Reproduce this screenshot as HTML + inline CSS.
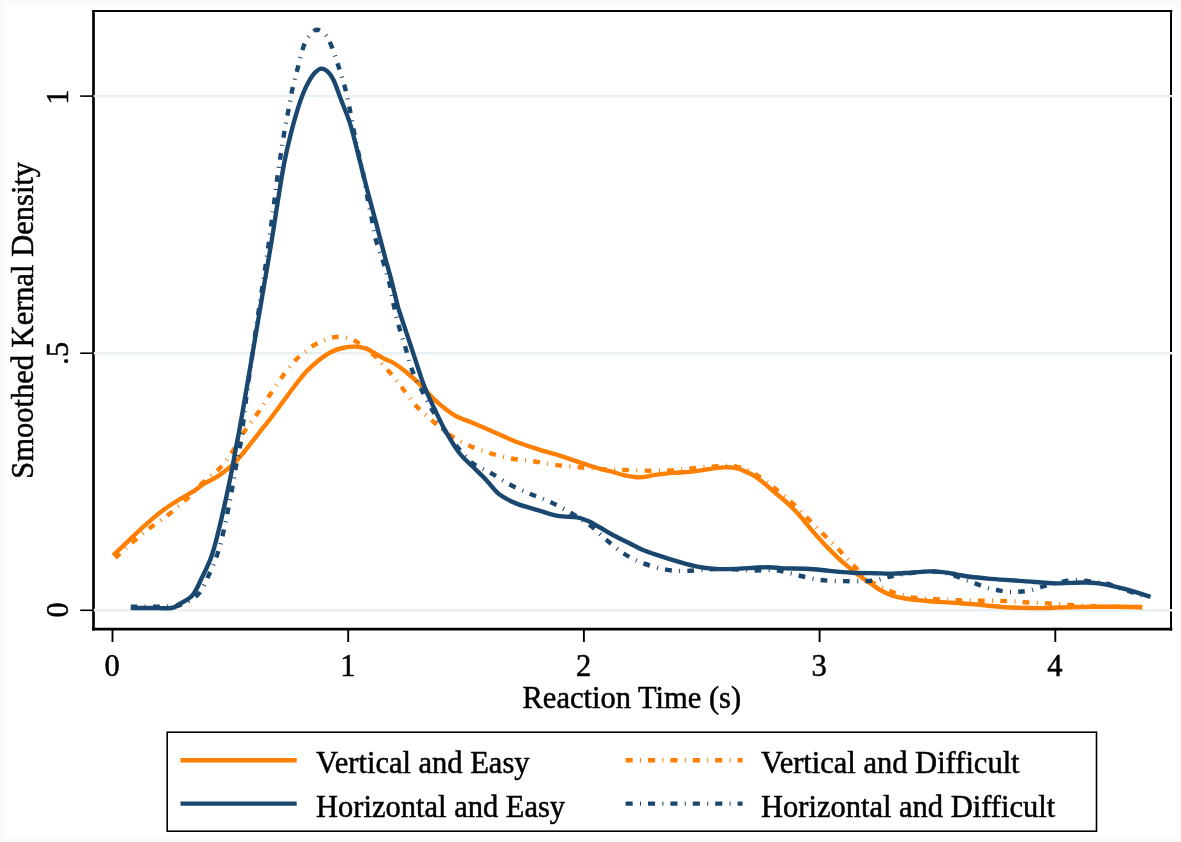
<!DOCTYPE html>
<html><head><meta charset="utf-8"><title>Reaction Time Kernel Density</title>
<style>
html,body{margin:0;padding:0;background:#fafafa;}
body{width:1181px;height:842px;position:relative;overflow:hidden;font-family:"Liberation Serif",serif;}
</style></head><body>
<svg width="1181" height="842" viewBox="0 0 1181 842" style="position:absolute;left:0;top:0;will-change:transform">
<rect x="0" y="0" width="1181" height="842" fill="#fafafa"/>
<rect x="4.3" y="4.6" width="1172.4" height="832.9" fill="#fff"/>
<g stroke="#000" fill="none">
<line x1="92.1" y1="11.0" x2="1172.3" y2="11.0" stroke-width="2.1"/>
<line x1="93.5" y1="11.0" x2="93.5" y2="630.5" stroke-width="2.7"/>
<line x1="92.1" y1="629.2" x2="1172.3" y2="629.2" stroke-width="2.7"/>
<line x1="1171.0" y1="11.0" x2="1171.0" y2="630.5" stroke-width="2.0"/>
<line x1="80.2" y1="610.3" x2="93.5" y2="610.3" stroke-width="1.6"/>
<line x1="80.2" y1="353.2" x2="93.5" y2="353.2" stroke-width="1.6"/>
<line x1="80.2" y1="96.1" x2="93.5" y2="96.1" stroke-width="1.6"/>
<line x1="112.5" y1="629.2" x2="112.5" y2="642" stroke-width="1.9"/>
<line x1="348.2" y1="629.2" x2="348.2" y2="642" stroke-width="1.9"/>
<line x1="583.9" y1="629.2" x2="583.9" y2="642" stroke-width="1.9"/>
<line x1="819.6" y1="629.2" x2="819.6" y2="642" stroke-width="1.9"/>
<line x1="1055.3" y1="629.2" x2="1055.3" y2="642" stroke-width="1.9"/>
</g>
<line x1="93.8" y1="610.3" x2="1172.0" y2="610.3" stroke="#e9f0f3" stroke-width="2.4"/>
<line x1="93.8" y1="353.2" x2="1172.0" y2="353.2" stroke="#e9f0f3" stroke-width="2.4"/>
<line x1="93.8" y1="96.1" x2="1172.0" y2="96.1" stroke="#e9f0f3" stroke-width="2.4"/>
<g fill="none" stroke-linejoin="round">
<path d="M113.1 555.3C114.9 553.6 120.0 548.8 123.8 545.3C127.5 541.8 131.7 537.7 135.6 534.0C139.5 530.3 143.5 526.7 147.5 523.2C151.5 519.7 155.4 516.1 159.4 513.0C163.4 509.9 167.4 507.1 171.3 504.5C175.2 501.9 179.2 499.7 183.1 497.3C187.0 494.9 191.4 492.6 195.0 490.3C198.6 488.0 201.3 485.3 204.5 483.4C207.7 481.5 210.8 480.5 214.0 478.7C217.2 476.9 220.3 474.7 223.5 472.3C226.7 469.9 229.8 467.5 233.0 464.4C236.2 461.3 239.3 457.6 242.5 453.8C245.7 450.1 249.2 445.4 252.0 441.9C254.8 438.3 256.2 436.6 259.4 432.5C262.6 428.4 267.4 422.7 271.3 417.5C275.2 412.3 279.2 406.8 283.1 401.5C287.1 396.2 291.0 390.6 295.0 385.5C299.0 380.4 302.9 375.2 306.9 371.0C310.9 366.8 314.9 363.3 318.8 360.2C322.8 357.1 326.7 354.2 330.6 352.2C334.6 350.2 338.5 348.9 342.5 348.0C346.5 347.1 350.4 346.5 354.4 346.6C358.4 346.7 362.7 347.4 366.3 348.6C369.9 349.8 372.6 352.0 375.8 353.8C379.0 355.6 382.3 357.7 385.3 359.2C388.3 360.7 390.0 360.7 393.7 363.0C397.4 365.3 402.8 369.2 407.3 373.0C411.9 376.8 416.4 381.0 421.0 385.5C425.6 390.0 429.2 394.9 434.7 399.8C440.2 404.7 447.4 410.9 453.8 414.8C460.2 418.7 466.1 420.1 472.9 423.0C479.7 425.9 487.5 429.3 494.8 432.5C502.1 435.7 509.3 439.2 516.6 442.0C523.9 444.8 531.2 447.0 538.5 449.3C545.8 451.6 553.1 453.5 560.4 455.8C567.7 458.1 576.4 461.3 582.2 463.2C588.0 465.1 590.4 466.1 595.0 467.4C599.6 468.7 604.9 469.8 609.9 471.1C614.9 472.4 619.9 474.3 624.9 475.4C629.9 476.4 634.9 477.5 639.9 477.4C644.9 477.3 649.4 475.6 654.8 474.9C660.2 474.1 666.5 473.4 672.3 472.9C678.1 472.4 684.0 472.5 689.8 471.9C695.6 471.3 701.4 470.1 707.2 469.4C713.0 468.6 720.1 467.6 724.7 467.4C729.3 467.1 731.4 467.3 734.7 467.9C738.0 468.5 741.3 469.7 744.6 471.1C747.9 472.5 751.3 474.0 754.6 476.1C757.9 478.2 761.3 480.9 764.6 483.6C767.9 486.3 771.3 489.5 774.6 492.3C777.9 495.1 781.2 497.6 784.5 500.5C787.8 503.4 791.5 506.9 794.5 510.0C797.5 513.1 799.4 515.2 802.6 519.0C805.8 522.8 810.1 528.3 813.9 532.6C817.6 536.9 821.4 541.0 825.1 545.0C828.9 549.0 832.6 552.7 836.4 556.3C840.2 559.9 843.9 563.2 847.7 566.4C851.5 569.6 855.2 572.6 859.0 575.4C862.8 578.2 866.5 580.7 870.3 583.3C874.1 585.9 877.8 588.7 881.6 590.8C885.4 592.9 888.8 594.5 892.9 595.8C897.0 597.1 901.1 597.9 906.4 598.7C911.7 599.5 918.5 600.1 924.5 600.7C930.5 601.3 936.5 601.7 942.5 602.1C948.5 602.5 955.2 602.8 960.6 603.2C966.0 603.6 970.5 604.0 975.0 604.4C979.5 604.8 982.8 605.2 987.9 605.7C993.0 606.2 999.8 606.8 1005.7 607.2C1011.7 607.6 1017.6 607.8 1023.6 607.9C1029.6 608.0 1035.5 608.2 1041.5 608.1C1047.5 608.0 1053.3 607.7 1059.3 607.5C1065.2 607.3 1071.2 607.1 1077.2 607.0C1083.2 606.9 1089.1 606.8 1095.1 606.7C1101.0 606.7 1107.0 606.7 1112.9 606.7C1118.9 606.8 1125.9 606.9 1130.8 607.0C1135.7 607.1 1140.5 607.2 1142.4 607.2" stroke="#ff7f00" stroke-width="4.4"/>
<path d="M115.4 557.8C118.4 555.1 127.6 546.5 133.3 541.6C139.1 536.7 144.0 532.7 149.9 528.1C155.8 523.5 163.0 519.0 168.9 514.3C174.8 509.6 180.0 505.2 185.5 500.1C191.0 495.0 196.5 488.5 202.1 483.4C207.7 478.2 213.9 474.3 218.8 469.2C223.8 464.1 227.7 458.7 231.8 452.6C236.0 446.5 239.5 438.8 243.7 432.4C247.9 426.0 252.8 420.1 257.0 414.1C261.2 408.1 264.8 402.4 268.9 396.3C273.0 390.2 277.5 383.2 281.9 377.3C286.2 371.4 291.2 364.8 295.0 360.6C298.8 356.4 301.3 354.9 304.5 352.3C307.7 349.7 310.8 347.2 314.0 345.2C317.2 343.2 320.3 341.8 323.5 340.5C326.7 339.2 329.8 338.0 333.0 337.4C336.2 336.8 338.9 336.4 342.5 336.9C346.1 337.4 350.4 338.5 354.4 340.5C358.4 342.5 363.1 346.4 366.3 348.8C369.5 351.2 371.1 352.6 373.4 354.7C375.7 356.8 377.1 358.3 380.0 361.5C382.9 364.7 387.2 369.5 390.9 373.8C394.5 378.1 397.8 382.3 401.9 387.5C406.0 392.7 410.5 399.7 415.5 405.2C420.5 410.7 426.4 415.5 431.9 420.3C437.4 425.1 442.4 429.8 448.3 433.9C454.2 438.0 460.7 441.7 467.5 444.9C474.3 448.1 482.0 450.7 489.3 453.0C496.6 455.3 503.9 457.1 511.2 458.5C518.5 459.9 525.7 460.1 533.0 461.2C540.3 462.2 547.1 463.8 554.9 464.8C562.6 465.8 571.2 466.5 579.5 467.3C587.8 468.1 597.5 469.0 604.9 469.4C612.3 469.8 617.0 469.7 623.7 469.9C630.4 470.1 637.6 470.5 644.9 470.6C652.2 470.7 659.8 470.9 667.3 470.6C674.8 470.3 682.3 469.3 689.8 468.6C697.3 467.9 704.7 467.0 712.2 466.6C719.7 466.2 727.6 464.9 734.7 466.1C741.8 467.3 748.2 470.1 754.6 473.6C761.0 477.1 767.3 482.7 773.3 487.3C779.3 491.9 784.9 496.2 790.5 501.3C796.1 506.4 801.7 512.5 807.1 517.9C812.5 523.3 817.6 528.4 822.9 533.7C828.2 539.0 833.6 544.2 838.7 549.5C843.8 554.8 848.1 560.0 853.4 565.3C858.7 570.6 864.1 576.8 870.3 581.1C876.5 585.4 883.6 588.5 890.6 591.2C897.6 593.9 904.8 596.0 912.1 597.3C919.4 598.6 927.1 598.6 934.6 599.1C942.1 599.6 949.6 600.0 957.2 600.3C964.8 600.6 972.5 600.6 980.0 600.7C987.5 600.8 994.8 600.6 1002.2 600.9C1009.6 601.1 1017.1 601.8 1024.5 602.2C1031.9 602.6 1039.3 603.0 1046.8 603.4C1054.2 603.8 1061.8 604.4 1069.2 604.9C1076.7 605.4 1084.2 605.8 1091.5 606.1C1098.8 606.4 1104.4 606.6 1112.9 606.7C1121.4 606.9 1136.6 606.8 1142.4 607.0C1148.2 607.2 1146.9 607.8 1147.8 607.9" stroke="#ff7f00" stroke-width="4.4" stroke-dasharray="6.8 7.4 1 7.2" stroke-dashoffset="0.4"/>
<path d="M130.8 608.0C134.0 608.0 143.2 608.0 150.0 608.0C156.8 608.0 166.6 608.6 171.3 608.0C176.0 607.4 174.9 606.8 178.4 604.6C181.9 602.5 188.7 599.7 192.6 595.1C196.5 590.5 198.9 583.8 202.1 577.3C205.3 570.8 208.8 563.8 211.6 555.9C214.4 548.0 216.4 539.3 218.8 529.8C221.2 520.3 223.7 508.8 225.9 498.9C228.1 489.0 230.0 479.5 231.8 470.4C233.6 461.3 235.3 451.0 236.6 444.3C237.9 437.6 237.8 438.7 239.4 430.0C241.0 421.3 243.8 404.5 246.0 392.0C248.2 379.5 250.3 367.0 252.3 355.0C254.3 343.0 256.2 331.7 258.2 320.0C260.2 308.3 262.1 296.7 264.1 285.0C266.1 273.3 268.5 259.8 270.1 250.0C271.8 240.2 272.8 233.7 274.0 226.0C275.2 218.3 275.7 214.5 277.4 204.0C279.1 193.5 281.9 174.8 284.2 163.0C286.5 151.2 288.7 142.1 291.0 133.0C293.3 123.9 295.8 115.2 297.9 108.4C300.0 101.6 301.8 96.7 303.7 92.0C305.6 87.3 307.6 83.5 309.5 80.3C311.4 77.1 313.0 74.5 315.0 72.6C317.0 70.6 319.1 68.7 321.3 68.6C323.5 68.5 325.9 69.8 328.0 71.8C330.1 73.8 331.7 76.0 333.8 80.5C335.9 85.0 338.4 92.7 340.6 98.5C342.8 104.3 345.6 111.2 347.2 115.5C348.8 119.8 349.0 119.9 350.2 124.0C351.4 128.1 353.2 134.5 354.6 139.9C356.0 145.3 357.3 151.0 358.7 156.5C360.1 162.0 361.5 167.6 362.9 173.1C364.3 178.6 365.8 184.1 367.2 189.7C368.6 195.2 369.9 200.0 371.6 206.4C373.3 212.8 375.3 220.1 377.4 228.0C379.5 235.9 382.0 246.0 384.1 253.8C386.2 261.7 388.2 268.4 390.0 275.1C391.8 281.8 393.5 288.8 394.8 294.1C396.1 299.4 396.8 302.8 398.0 307.0C399.2 311.2 399.4 311.6 401.9 319.1C404.4 326.6 409.2 341.0 412.8 351.9C416.4 362.8 420.1 375.1 423.7 384.7C427.3 394.3 431.0 401.6 434.7 409.3C438.4 417.1 441.5 423.9 445.6 431.2C449.7 438.5 454.8 447.1 459.3 453.0C463.9 458.9 468.3 462.1 472.9 466.7C477.4 471.3 482.3 475.8 486.6 480.4C490.9 484.9 493.9 490.1 498.9 494.0C503.9 497.9 510.0 500.9 516.6 503.6C523.2 506.3 531.7 508.3 538.5 510.4C545.3 512.4 551.2 514.8 557.6 515.9C564.0 517.0 571.8 516.5 576.8 517.3C581.8 518.1 583.8 519.1 587.7 520.8C591.6 522.5 595.9 525.2 600.0 527.5C604.1 529.8 607.8 532.2 612.4 534.7C617.0 537.2 622.4 539.7 627.4 542.2C632.4 544.7 637.0 547.4 642.4 549.7C647.8 552.0 653.6 553.8 659.8 555.9C666.0 558.0 673.6 560.4 679.8 562.2C686.0 564.0 691.4 565.6 697.2 566.7C703.0 567.8 708.5 568.5 714.7 568.9C721.0 569.3 728.1 569.1 734.7 568.9C741.4 568.7 748.8 568.0 754.6 567.7C760.4 567.4 764.6 567.1 769.6 567.2C774.6 567.3 778.2 568.1 784.5 568.4C790.8 568.6 799.6 568.3 807.1 568.7C814.6 569.1 822.2 570.2 829.7 570.9C837.2 571.6 844.7 572.3 852.2 572.7C859.7 573.1 868.0 573.1 874.8 573.2C881.6 573.4 886.9 573.7 892.9 573.6C898.9 573.5 904.9 573.1 910.9 572.7C916.9 572.3 923.7 571.5 929.0 571.4C934.3 571.3 938.0 571.6 942.5 572.1C947.0 572.6 951.5 573.5 956.1 574.3C960.7 575.1 964.7 576.1 970.0 576.8C975.3 577.5 981.9 578.1 987.9 578.6C993.9 579.1 999.8 579.5 1005.7 579.9C1011.7 580.3 1017.6 580.7 1023.6 581.1C1029.6 581.5 1036.1 582.1 1041.5 582.5C1046.9 582.9 1051.0 583.3 1055.8 583.4C1060.6 583.5 1065.3 583.0 1070.1 582.9C1074.8 582.8 1079.5 582.4 1084.3 582.5C1089.0 582.6 1093.8 582.8 1098.6 583.4C1103.4 584.0 1108.1 585.0 1112.9 586.1C1117.7 587.2 1122.7 588.5 1127.2 589.7C1131.7 590.9 1135.8 592.1 1139.7 593.3C1143.6 594.5 1148.7 596.2 1150.5 596.8" stroke="#1a476f" stroke-width="4.4"/>
<path d="M130.9 606.6C137.6 606.6 162.8 607.0 171.3 606.6C179.8 606.2 177.2 606.3 181.8 604.2C186.4 602.1 194.0 599.0 198.6 593.9C203.2 588.8 206.2 580.4 209.4 573.7C212.6 567.0 215.3 560.4 217.6 553.5C219.9 546.6 221.7 539.4 223.4 532.1C225.2 524.8 226.6 516.9 228.1 509.6C229.6 502.3 230.9 495.5 232.2 488.2C233.5 480.9 234.7 473.1 236.1 465.6C237.5 458.1 238.9 454.0 240.6 443.1C242.2 432.2 244.2 413.9 246.0 400.0C247.8 386.1 249.7 373.0 251.5 360.0C253.3 347.0 255.2 334.0 257.0 322.0C258.8 310.0 260.8 297.3 262.2 288.0C263.6 278.7 264.4 273.2 265.5 266.0C266.6 258.8 267.5 252.2 268.5 245.0C269.5 237.8 270.5 230.5 271.5 223.0C272.5 215.5 273.5 207.7 274.5 200.0C275.5 192.3 276.4 184.5 277.4 177.0C278.4 169.5 279.6 162.3 280.7 155.0C281.8 147.7 282.9 140.3 284.2 133.0C285.5 125.7 286.9 118.3 288.3 111.0C289.7 103.7 290.8 96.3 292.4 89.0C294.0 81.7 296.0 74.7 297.9 67.4C299.8 60.2 301.8 51.0 303.9 45.5C305.9 40.0 308.0 37.2 310.2 34.6C312.4 32.0 314.5 29.7 317.0 29.7C319.5 29.7 322.9 32.2 325.2 34.6C327.5 37.0 328.6 39.4 330.7 44.2C332.8 49.0 335.2 56.5 337.5 63.3C339.8 70.1 342.3 77.8 344.3 85.1C346.3 92.4 347.8 99.5 349.3 107.0C350.9 114.5 352.1 122.3 353.6 129.9C355.1 137.5 356.7 144.9 358.3 152.4C359.9 159.9 361.9 167.5 363.4 174.8C364.9 182.1 365.8 189.1 367.2 196.4C368.6 203.8 370.4 211.7 371.8 218.9C373.2 226.1 374.0 232.5 375.8 239.5C377.6 246.5 380.6 253.6 382.9 260.9C385.2 268.2 387.7 276.2 389.5 283.4C391.3 290.6 391.9 296.9 393.5 304.0C395.1 311.1 396.8 318.7 398.8 326.0C400.8 333.3 403.3 340.5 405.5 347.8C407.7 355.1 409.4 362.9 412.0 369.7C414.6 376.5 417.7 382.2 421.0 388.8C424.3 395.4 428.0 402.5 431.9 409.3C435.8 416.1 439.9 423.4 444.2 429.8C448.5 436.2 453.3 442.1 457.9 447.6C462.5 453.1 466.4 458.5 471.6 462.6C476.8 466.7 482.9 468.6 489.3 472.2C495.7 475.8 503.0 480.9 509.8 484.5C516.6 488.1 523.5 491.1 530.3 494.0C537.1 496.9 544.0 499.0 550.8 502.2C557.6 505.4 564.7 509.3 571.3 513.2C577.9 517.1 584.6 521.1 590.4 525.5C596.2 529.9 600.7 535.0 606.2 539.7C611.8 544.4 617.5 549.5 623.7 553.5C629.9 557.5 636.5 560.7 643.6 563.4C650.7 566.1 658.8 568.5 666.1 569.7C673.4 571.0 680.0 571.0 687.3 570.9C694.6 570.8 702.2 569.5 709.7 569.2C717.2 568.9 724.7 569.0 732.2 569.2C739.7 569.4 747.1 570.2 754.6 570.4C762.1 570.6 769.8 569.6 777.0 570.4C784.2 571.2 790.8 573.8 798.1 575.4C805.4 577.0 813.1 579.0 820.6 580.0C828.1 581.0 835.7 580.9 843.2 581.1C850.7 581.3 860.1 581.3 865.8 581.1C871.4 580.9 873.5 580.6 877.1 580.0C880.7 579.4 882.3 578.3 887.2 577.2C892.1 576.1 899.4 574.6 906.4 573.6C913.4 572.6 923.0 571.6 929.0 571.4C935.0 571.2 938.4 571.8 942.5 572.5C946.6 573.2 950.0 574.2 953.8 575.4C957.6 576.6 961.5 578.2 965.1 579.5C968.7 580.8 971.9 582.1 975.4 583.4C978.9 584.7 982.5 586.4 986.1 587.5C989.7 588.6 993.2 589.3 996.8 590.0C1000.4 590.7 1003.9 591.5 1007.5 591.8C1011.1 592.1 1014.6 592.0 1018.2 591.8C1021.8 591.6 1025.1 591.4 1029.0 590.6C1032.9 589.8 1037.6 588.1 1041.5 587.0C1045.4 585.9 1048.6 584.9 1052.2 584.0C1055.8 583.1 1059.3 582.2 1062.9 581.6C1066.5 581.0 1070.0 580.5 1073.6 580.4C1077.2 580.2 1080.7 580.4 1084.3 580.7C1087.9 581.0 1091.5 581.8 1095.1 582.2C1098.7 582.7 1102.2 582.6 1105.8 583.4C1109.4 584.2 1112.9 585.8 1116.5 587.0C1120.1 588.2 1123.6 589.4 1127.2 590.6C1130.8 591.8 1134.3 592.9 1137.9 594.1C1141.5 595.3 1146.9 597.1 1148.7 597.7" stroke="#1a476f" stroke-width="4.4" stroke-dasharray="6.8 7.4 1 7.2" stroke-dashoffset="0.4"/>
</g>
<rect x="167.2" y="732.2" width="929.3" height="99" fill="#fff" stroke="#000" stroke-width="1.6"/>
<line x1="180.5" y1="760.3" x2="296.7" y2="760.3" stroke="#ff7f00" stroke-width="4.4"/>
<line x1="180.5" y1="803.6" x2="296.7" y2="803.6" stroke="#1a476f" stroke-width="4.4"/>
<line x1="625.6" y1="760.3" x2="742.6" y2="760.3" stroke="#ff7f00" stroke-width="4.4" stroke-dasharray="7.1 7.3 1 7"/>
<line x1="625.6" y1="803.6" x2="742.6" y2="803.6" stroke="#1a476f" stroke-width="4.4" stroke-dasharray="7.1 7.3 1 7"/>
<g font-family="'Liberation Serif', serif" font-size="30.5" fill="#000" stroke="#000" stroke-width="0.5">
<text x="112.1" y="675.7" text-anchor="middle">0</text>
<text x="347.8" y="675.7" text-anchor="middle">1</text>
<text x="583.5" y="675.7" text-anchor="middle">2</text>
<text x="819.2" y="675.7" text-anchor="middle">3</text>
<text x="1054.9" y="675.7" text-anchor="middle">4</text>
<text x="631.8" y="707.8" text-anchor="middle">Reaction Time (s)</text>
<text transform="translate(68 609.8) rotate(-90)" text-anchor="middle">0</text>
<text transform="translate(68 353.2) rotate(-90)" text-anchor="middle">.5</text>
<text transform="translate(68 97.1) rotate(-90)" text-anchor="middle">1</text>
<text transform="translate(32.8 320.3) rotate(-90)" text-anchor="middle">Smoothed Kernal Density</text>
<text x="316.1" y="773.4">Vertical and Easy</text>
<text x="316.1" y="817.1">Horizontal and Easy</text>
<text x="761.0" y="773.4">Vertical and Difficult</text>
<text x="761.0" y="817.1">Horizontal and Difficult</text>
</g>
</svg>
</body></html>
